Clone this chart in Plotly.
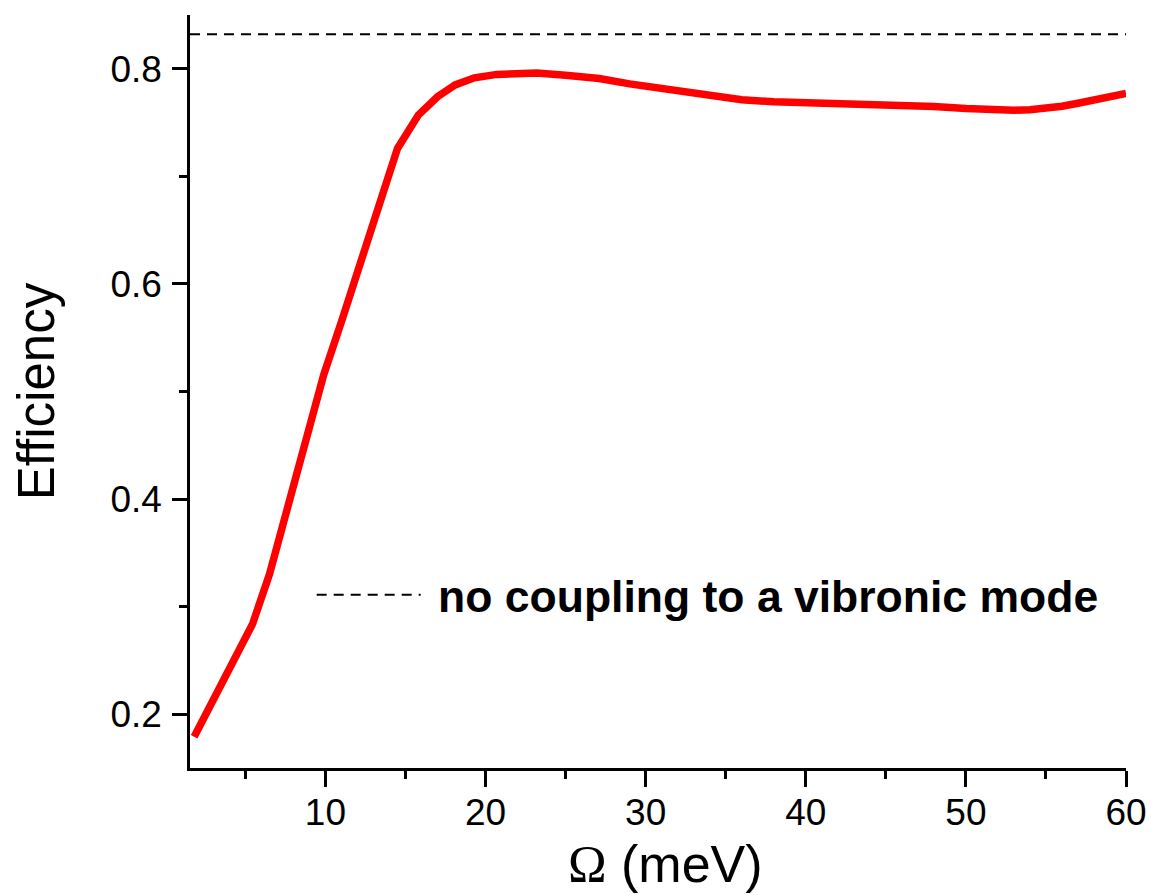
import plotly.graph_objects as go

# Data
omega = [1.8, 3.0, 3.9, 5.45, 6.5, 7.3, 8.0, 9.0, 9.9, 11.0, 12.4, 13.4, 14.5,
         15.8, 17.0, 18.1, 19.3, 20.7, 21.9, 23.2, 25.0, 27.1, 29.0, 30.7,
         32.5, 34.2, 36.0, 38.0, 40.0, 42.0, 44.0, 46.0, 48.0, 50.0, 51.0,
         52.0, 53.0, 54.0, 55.0, 56.0, 57.0, 58.0, 59.0, 60.0]
efficiency = [0.179, 0.214, 0.240, 0.284, 0.330, 0.374, 0.412, 0.463, 0.516,
              0.565, 0.631, 0.679, 0.726, 0.757, 0.774, 0.785, 0.7916, 0.7948,
              0.796, 0.796, 0.794, 0.791, 0.786, 0.782, 0.778, 0.774, 0.7712,
              0.7693, 0.7686, 0.7684, 0.7676, 0.7668, 0.765, 0.763, 0.7622,
              0.7617, 0.7615, 0.762, 0.763, 0.7652, 0.768, 0.771, 0.774, 0.777]
no_coupling_x = [1.54, 60.0]
no_coupling_y = [0.832, 0.832]

x_range = [1.54, 60]
y_range = [0.15, 0.85]
x_ticks = [10, 20, 30, 40, 50, 60]
y_ticks = [0.2, 0.4, 0.6, 0.8]

font_main = "Liberation Sans, Arial, sans-serif"

fig = go.Figure()
fig.add_trace(go.Scatter(
    x=omega, y=efficiency, mode="lines",
    line=dict(color="rgb(255,0,0)", width=7.5),
    showlegend=False, name="Efficiency"))
fig.add_trace(go.Scatter(
    x=no_coupling_x, y=no_coupling_y, mode="lines",
    line=dict(color="black", width=2, dash="10px,7px"),
    name="&nbsp;<b>no coupling to a vibronic mode</b>", showlegend=True))

fig.update_layout(
    width=1151, height=895,
    margin=dict(l=190, r=25, t=15, b=127),
    paper_bgcolor="white", plot_bgcolor="white",
    font=dict(family=font_main, color="black", size=37),
    legend=dict(x=0.130, y=0.230, xanchor="left", yanchor="middle",
                itemwidth=104, bgcolor="rgba(0,0,0,0)",
                font=dict(size=44.5, family=font_main),
                tracegroupgap=0),
)
fig.update_xaxes(
    range=x_range, tickvals=x_ticks, ticktext=[str(v) for v in x_ticks],
    automargin=False,
    showgrid=False, zeroline=False, showline=True, linecolor="black",
    linewidth=2.5, ticks="outside", ticklen=16, tickwidth=2.5,
    tickcolor="black", tickfont=dict(size=37), ticklabelstandoff=-6,
    minor=dict(tickvals=[5, 15, 25, 35, 45, 55], ticks="outside",
               ticklen=8, tickwidth=2.5, tickcolor="black"),
    title=dict(text="&nbsp;<span style=\"font-family:'Liberation Serif'\">Ω</span> (meV)",
               font=dict(size=52), standoff=14),
)
fig.update_yaxes(
    range=y_range, tickvals=y_ticks, ticktext=["0.2", "0.4", "0.6", "0.8"],
    automargin=False,
    showgrid=False, zeroline=False, showline=True, linecolor="black",
    linewidth=2.5, ticks="outside", ticklen=15, tickwidth=2.5,
    tickcolor="black", tickfont=dict(size=37), ticklabelstandoff=3,
    minor=dict(tickvals=[0.3, 0.5, 0.7], ticks="outside",
               ticklen=8, tickwidth=2.5, tickcolor="black"),
    title=dict(text="Efficiency", font=dict(size=51), standoff=40),
)

fig.write_html(
    "out.html",
    config={"displayModeBar": False},
    post_script="document.body.style.margin='0';document.body.style.overflow='hidden';",
)
